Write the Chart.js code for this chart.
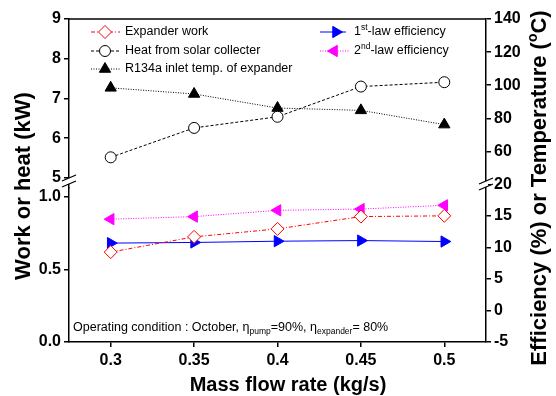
<!DOCTYPE html>
<html>
<head>
<meta charset="utf-8">
<script src="https://cdn.jsdelivr.net/npm/chart.js@4"></script>
<style>
  html, body { margin: 0; padding: 0; background: #fff; }
  #wrap { width: 556px; height: 396px; }
</style>
</head>
<body>
<div id="wrap"><canvas id="grfk"></canvas></div>
<script>
// ---- data ----
const massFlow = [0.3, 0.35, 0.4, 0.45, 0.5];
const expanderWork = [0.62, 0.725, 0.78, 0.865, 0.87];     // kW
const solarHeat = [5.52, 6.26, 6.54, 7.30, 7.41];          // kW
const inletTemp = [98.4, 94.7, 86.2, 84.8, 76.2];          // degC
const eff1st = [10.7, 10.8, 11.0, 11.1, 10.95];            // %
const eff2nd = [14.5, 14.9, 15.9, 16.1, 16.7];             // %

const kwTopTicks = [5, 6, 7, 8, 9];
const kwBotTicks = [0, 0.5, 1.0];
const tempTicks = [60, 80, 100, 120, 140];
const effTicks = [-5, 0, 5, 10, 15, 20];

const FONT = '"Liberation Sans", Arial, sans-serif';
Chart.defaults.font.family = FONT;
Chart.defaults.color = '#000';

const tickFont = { size: 16, weight: 'bold' };

function yAxis(pos, stack, weight, min, max, tickVals, fmt) {
    return {
        type: 'linear',
        position: pos,
        stack: stack,
        stackWeight: weight,
        min: min,
        max: max,
        afterBuildTicks: s => { s.ticks = tickVals.map(v => ({ value: v })); },
        afterFit: s => { s.width = pos === 'left' ? 69 : 70; },
        ticks: { font: tickFont, color: '#000', padding: 3, autoSkip: false, callback: fmt },
        grid: { drawOnChartArea: false, tickLength: 5, color: '#000', lineWidth: 1.5 },
        border: { color: '#000', width: 1.5 }
    };
}

// ---- legend / titles / breaks drawn on top ----
function drawMarker(ctx, ds, x, y) {
    ctx.fillStyle = ds.pointBackgroundColor;
    ctx.strokeStyle = ds.pointBorderColor;
    ctx.lineWidth = 1;
    Chart.helpers.drawPoint(ctx, {
        pointStyle: ds.pointStyle, rotation: ds.pointRotation || 0,
        radius: ds.pointRadius, borderWidth: 1
    }, x, y);
}

function legendLine(ctx, ds, x1, x2, xm, y) {
    ctx.save();
    ctx.strokeStyle = ds.borderColor;
    ctx.lineWidth = 1;
    ctx.setLineDash(ds.borderDash || []);
    ctx.beginPath(); ctx.moveTo(x1, y); ctx.lineTo(x2, y); ctx.stroke();
    ctx.setLineDash([]);
    drawMarker(ctx, ds, xm, y);
    ctx.restore();
}

// parts: [text, fontSize, bold, dy]
function richWidth(ctx, parts) {
    let w = 0;
    parts.forEach(p => {
        ctx.font = (p[2] ? 'bold ' : '') + p[1] + 'px ' + FONT;
        w += ctx.measureText(p[0]).width;
    });
    return w;
}
function richText(ctx, parts, x, y) {
    ctx.textBaseline = 'middle';
    ctx.textAlign = 'left';
    parts.forEach(p => {
        ctx.font = (p[2] ? 'bold ' : '') + p[1] + 'px ' + FONT;
        ctx.fillText(p[0], x, y + (p[3] || 0));
        x += ctx.measureText(p[0]).width;
    });
}

const decor = {
    id: 'decor',
    afterDraw(chart) {
        const ctx = chart.ctx;
        const a = chart.chartArea;
        const dsets = chart.data.datasets;
        ctx.save();

        // top frame
        ctx.strokeStyle = '#000';
        ctx.lineWidth = 1.5;
        ctx.beginPath(); ctx.moveTo(a.left, a.top); ctx.lineTo(a.right, a.top); ctx.stroke();

        // axis breaks
        function brk(x, y) {
            ctx.fillStyle = '#fff';
            ctx.fillRect(x - 2, y - 3, 4, 6);
            ctx.strokeStyle = '#000';
            ctx.lineWidth = 1.3;
            ctx.beginPath();
            ctx.moveTo(x - 7, y + 0); ctx.lineTo(x + 7, y - 6);
            ctx.moveTo(x - 7, y + 6); ctx.lineTo(x + 7, y + 0);
            ctx.stroke();
        }
        brk(a.left, 181);
        brk(a.right, 184);

        // legend
        ctx.fillStyle = '#000';
        legendLine(ctx, dsets[0], 91, 120, 105, 32);
        legendLine(ctx, dsets[1], 91, 120, 105, 51);
        legendLine(ctx, dsets[2], 91, 120, 105, 69);
        legendLine(ctx, dsets[3], 320, 346, 336, 32);
        legendLine(ctx, dsets[4], 320, 350, 334, 51);
        ctx.fillStyle = '#000';
        richText(ctx, [['Expander work', 12.5]], 125, 32);
        richText(ctx, [['Heat from solar collecter', 12.5]], 125, 51);
        richText(ctx, [['R134a inlet temp. of expander', 12.5]], 125, 69);
        richText(ctx, [['1', 12.5], ['st', 8.5, false, -4], ['-law efficiency', 12.5]], 354, 32);
        richText(ctx, [['2', 12.5], ['nd', 8.5, false, -4], ['-law efficiency', 12.5]], 354, 51);

        // operating condition note
        richText(ctx, [
            ['Operating condition : October, \u03b7', 12.5], ['pump', 8.5, false, 4],
            ['=90%, \u03b7', 12.5], ['expander', 8.5, false, 4], ['= 80%', 12.5]
        ], 73, 328);

        // axis titles
        ctx.font = 'bold 20px ' + FONT;
        ctx.textAlign = 'center';
        ctx.textBaseline = 'middle';
        ctx.fillText('Mass flow rate (kg/s)', 288, 385);

        ctx.save();
        ctx.translate(24, 186);
        ctx.rotate(-Math.PI / 2);
        ctx.font = 'bold 22px ' + FONT;
        ctx.textAlign = 'center';
        ctx.fillText('Work or heat (kW)', 0, 0);
        ctx.restore();

        ctx.save();
        ctx.translate(540, 188);
        ctx.rotate(-Math.PI / 2);
        const rParts = [['Efficiency (%) or Temperature (', 22, true], ['o', 14, true, -7], ['C)', 22, true]];
        richText(ctx, rParts, -richWidth(ctx, rParts) / 2, 0);
        ctx.restore();

        ctx.restore();
    }
};

const ctx = document.getElementById('grfk').getContext('2d');
new Chart(ctx, {
    type: 'line',
    data: {
        labels: massFlow,
        datasets: [{
            label: 'Expander work',
            data: expanderWork,
            yAxisID: 'yBot',
            borderColor: '#ff0000', borderWidth: 1, borderDash: [4, 2, 1, 2],
            pointStyle: 'rectRot', pointRadius: 6.5,
            pointBackgroundColor: '#fff', pointBorderColor: '#ff0000', pointBorderWidth: 1
        }, {
            label: 'Heat from solar collecter',
            data: solarHeat,
            yAxisID: 'yTop',
            borderColor: '#000', borderWidth: 1, borderDash: [3, 2],
            pointStyle: 'circle', pointRadius: 5.5,
            pointBackgroundColor: '#fff', pointBorderColor: '#000', pointBorderWidth: 1
        }, {
            label: 'R134a inlet temp. of expander',
            data: inletTemp,
            yAxisID: 'rTop',
            borderColor: '#000', borderWidth: 1, borderDash: [1, 1.5],
            pointStyle: 'triangle', pointRadius: 6.5,
            pointBackgroundColor: '#000', pointBorderColor: '#000', pointBorderWidth: 1
        }, {
            label: '1st-law efficiency',
            data: eff1st,
            yAxisID: 'rBot',
            borderColor: '#0000ff', borderWidth: 1,
            pointStyle: 'triangle', pointRotation: 90, pointRadius: 6.5,
            pointBackgroundColor: '#0000ff', pointBorderColor: '#0000ff', pointBorderWidth: 1
        }, {
            label: '2nd-law efficiency',
            data: eff2nd,
            yAxisID: 'rBot',
            borderColor: '#ff00ff', borderWidth: 1, borderDash: [1, 1.5],
            pointStyle: 'triangle', pointRotation: -90, pointRadius: 6.5,
            pointBackgroundColor: '#ff00ff', pointBorderColor: '#ff00ff', pointBorderWidth: 1
        }]
    },
    options: {
        responsive: true,
        maintainAspectRatio: false,
        animation: false,
        layout: { padding: { top: 19, left: 0, right: 0, bottom: 0 } },
        plugins: { legend: { display: false }, tooltip: { enabled: false } },
        scales: {
            x: {
                type: 'linear', min: 0.275, max: 0.525,
                afterBuildTicks: s => { s.ticks = massFlow.map(v => ({ value: v })); },
                afterFit: s => { s.height = 54; },
                ticks: { font: tickFont, color: '#000', padding: 4, maxRotation: 0, autoSkip: false, callback: v => String(v) },
                grid: { drawOnChartArea: false, tickLength: 5, color: '#000', lineWidth: 1.5 },
                border: { color: '#000', width: 1.5 }
            },
            // left stack: bottom segment first, top segment placed above it
            yBot: yAxis('left', 'L', 154, 0, 1.062, kwBotTicks, v => v.toFixed(1)),
            yTop: yAxis('left', 'L', 169, 4.748, 9, kwTopTicks, v => String(v)),
            // right stack: top segment first
            rTop: yAxis('right', 'R', 165, 40, 140, tempTicks, v => String(v)),
            rBot: yAxis('right', 'R', 157, -5, 20, effTicks, v => String(v))
        }
    },
    plugins: [decor]
});
</script>
</body>
</html>
